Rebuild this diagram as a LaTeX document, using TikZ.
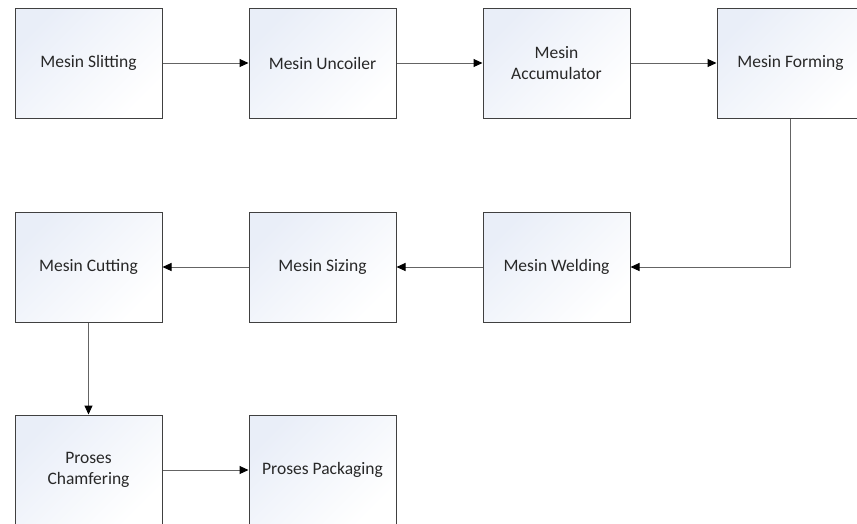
\documentclass[tikz,border=0pt]{standalone}
\usepackage{fontspec}
\setmainfont{Carlito}
\usetikzlibrary{arrows.meta}
\definecolor{boxblue}{RGB}{233,238,248}
\definecolor{boxline}{RGB}{64,64,64}
\definecolor{conline}{RGB}{100,100,100}
\definecolor{txt}{RGB}{40,40,40}
\tikzset{
  proc/.style={draw=boxline, line width=1pt, rectangle, minimum width=147pt, minimum height=110pt,
    left color=boxblue, right color=white, shading angle=45, align=center, text=txt,
    font=\fontsize{17.5}{21.5}\selectfont, inner sep=0pt},
  conn/.style={draw=conline, line width=1pt, -{Triangle[length=9pt,width=8pt,color=black]}}
}
\begin{document}
\begin{tikzpicture}[x=1pt,y=-1pt]
\useasboundingbox (0,0) rectangle (857,523);
\clip (0,0) rectangle (857,523);
\node[proc] (slit) at (88.5,63) {Mesin Slitting};
\node[proc] (unc) at (322.5,63) {Mesin Uncoiler};
\node[proc] (acc) at (556.5,63) {Mesin\\Accumulator};
\node[proc] (form) at (790.5,63) {Mesin Forming};
\node[proc] (cut) at (88.5,267) {Mesin Cutting};
\node[proc] (siz) at (322.5,267) {Mesin Sizing};
\node[proc] (weld) at (556.5,267) {Mesin Welding};
\node[proc] (cham) at (88.5,470) {Proses\\Chamfering};
\node[proc] (pack) at (322.5,470) {Proses Packaging};
\draw[conn] (slit) -- (unc);
\draw[conn] (unc) -- (acc);
\draw[conn] (acc) -- (form);
\draw[conn] (form.south) |- (weld.east);
\draw[conn] (weld) -- (siz);
\draw[conn] (siz) -- (cut);
\draw[conn] (cut) -- (cham);
\draw[conn] (cham) -- (pack);
\end{tikzpicture}
\end{document}
